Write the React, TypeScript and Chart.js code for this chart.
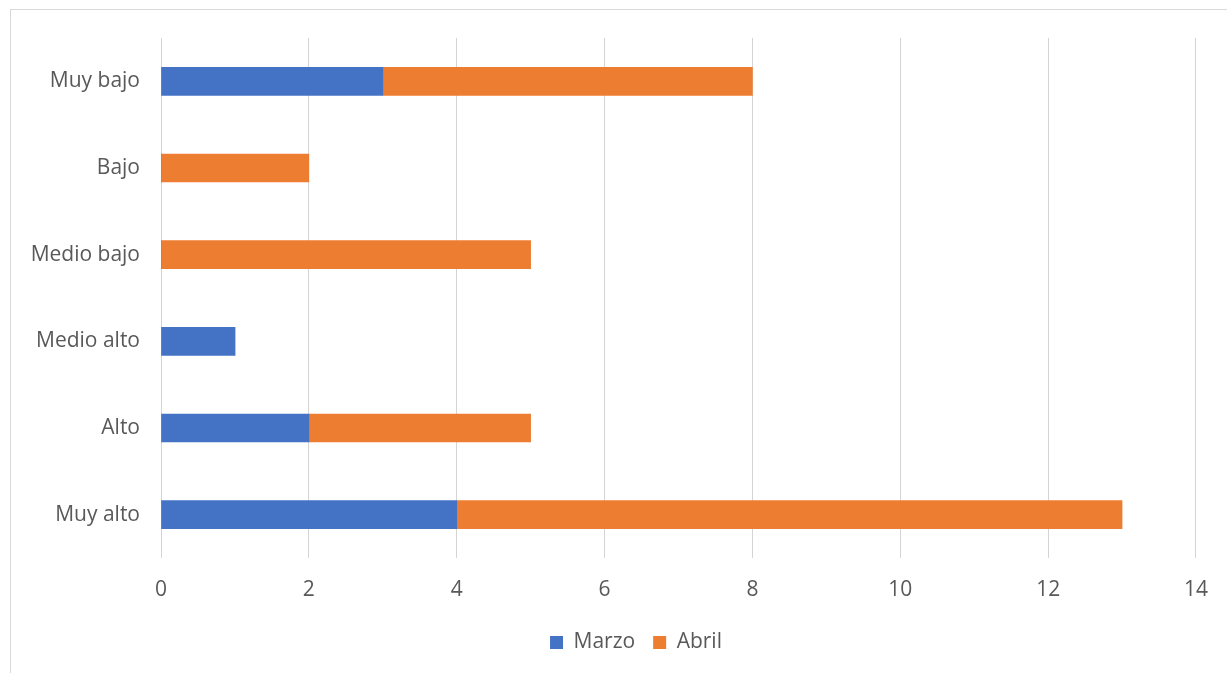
import React, { useEffect, useRef } from "react";
import { Chart, registerables } from "chart.js";

Chart.register(...registerables);

const categories = ["Muy bajo", "Bajo", "Medio bajo", "Medio alto", "Alto", "Muy alto"];
const marzo = [3, 0, 0, 1, 2, 4];
const abril = [5, 2, 5, 0, 3, 9];
const xTicks = [0, 2, 4, 6, 8, 10, 12, 14];

const shiftLegend = {
  id: "shiftLegend",
  afterLayout(chart: any) {
    const lg = chart.legend;
    if (lg) {
      lg.left += 37;
      lg.right += 37;
    }
  },
};

export default function App() {
  const ref = useRef<HTMLCanvasElement | null>(null);

  useEffect(() => {
    if (!ref.current) return;
    const font = { family: "'Open Sans', sans-serif", size: 21 };
    const chart = new Chart(ref.current, {
      type: "bar",
      data: {
        labels: categories,
        datasets: [
          { label: "Marzo", data: marzo, backgroundColor: "#4472C4", barThickness: 28 },
          { label: "Abril", data: abril, backgroundColor: "#ED7D31", barThickness: 28 },
        ],
      },
      plugins: [shiftLegend],
      options: {
        indexAxis: "y",
        animation: false,
        responsive: false,
        maintainAspectRatio: false,
        layout: { padding: { top: 38, right: 29, bottom: 10, left: 0 } },
        plugins: {
          legend: {
            position: "bottom",
            labels: {
              boxWidth: 13,
              boxHeight: 13,
              padding: 18,
              color: "#595959",
              font,
            },
          },
          tooltip: { enabled: false },
          title: { display: false },
        },
        scales: {
          x: {
            stacked: true,
            min: 0,
            max: 14,
            afterBuildTicks: (scale: any) => {
              scale.ticks = xTicks.map((v) => ({ value: v }));
            },
            afterFit: (scale: any) => {
              scale.height = 56;
            },
            grid: { color: "#d4d4d4", lineWidth: 1, drawTicks: false },
            border: { display: false },
            ticks: { color: "#595959", font, padding: 19, maxRotation: 0 },
          },
          y: {
            stacked: true,
            afterFit: (scale: any) => {
              scale.width = 161;
            },
            grid: { display: false, drawTicks: false },
            border: { display: false },
            ticks: { color: "#595959", font, padding: 21, autoSkip: false },
          },
        },
      },
    } as any);
    return () => chart.destroy();
  }, []);

  return (
    <div style={{ position: "fixed", left: 0, top: 0, width: 1227, height: 673, background: "#fff" }}>
      <div
        style={{
          position: "absolute",
          left: 10,
          top: 9,
          width: 1300,
          height: 700,
          borderLeft: "1px solid #d9d9d9",
          borderTop: "1px solid #d9d9d9",
        }}
      />
      <canvas ref={ref} width={1227} height={673} style={{ position: "absolute", left: 0, top: 0 }} />
    </div>
  );
}
